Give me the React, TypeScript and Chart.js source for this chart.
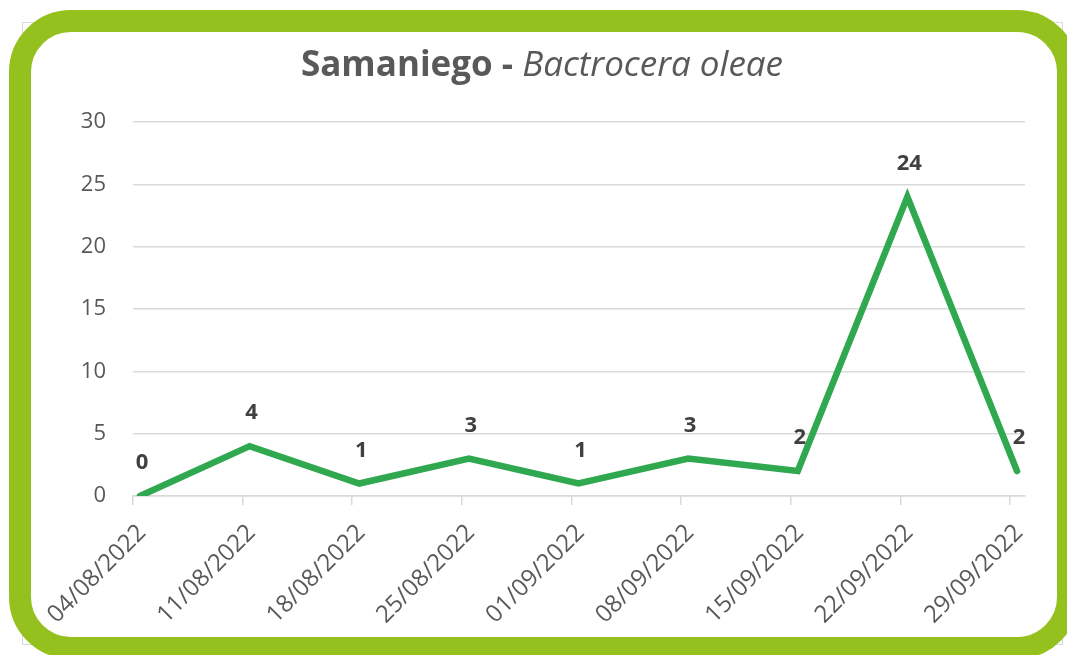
import React, { useEffect, useRef } from "react";
import { Chart, registerables } from "chart.js";

Chart.register(...registerables);

const categories = [
  "04/08/2022",
  "11/08/2022",
  "18/08/2022",
  "25/08/2022",
  "01/09/2022",
  "08/09/2022",
  "15/09/2022",
  "22/09/2022",
  "29/09/2022",
];
const captures = [0, 4, 1, 3, 1, 3, 2, 24, 2];
const yTicks = [0, 5, 10, 15, 20, 25, 30];
const titleBold = "Samaniego - ";
const titleItalic = "Bactrocera oleae";

const FONT = "'Open Sans', 'DejaVu Sans', sans-serif";

const titlePlugin = {
  id: "mixedTitle",
  afterDraw(chart: any) {
    const ctx = chart.ctx;
    ctx.save();
    ctx.textBaseline = "alphabetic";
    ctx.fillStyle = "#595959";
    ctx.font = `bold 35px ${FONT}`;
    const w1 = ctx.measureText(titleBold).width;
    ctx.font = `italic 35px ${FONT}`;
    const w2 = ctx.measureText(titleItalic).width;
    const x0 = 542 - (w1 + w2) / 2;
    ctx.font = `bold 35px ${FONT}`;
    ctx.textAlign = "left";
    ctx.fillText(titleBold, x0, 76);
    ctx.font = `italic 35px ${FONT}`;
    ctx.fillText(titleItalic, x0 + w1, 76);
    ctx.restore();
  },
};

const labelPlugin = {
  id: "pointLabels",
  afterDatasetsDraw(chart: any) {
    const ctx = chart.ctx;
    const meta = chart.getDatasetMeta(0);
    ctx.save();
    ctx.font = `bold 22px ${FONT}`;
    ctx.fillStyle = "#404040";
    ctx.textAlign = "center";
    ctx.textBaseline = "middle";
    meta.data.forEach((pt: any, i: number) => {
      ctx.fillText(String(captures[i]), pt.x + 2, pt.y - 33);
    });
    ctx.restore();
  },
};

const xLabelPlugin = {
  id: "xLabels",
  afterDraw(chart: any) {
    const ctx = chart.ctx;
    const xs = chart.scales.x;
    const y0 = chart.chartArea.bottom;
    ctx.save();
    ctx.font = `24px ${FONT}`;
    ctx.fillStyle = "#595959";
    ctx.textAlign = "right";
    ctx.textBaseline = "middle";
    categories.forEach((c, i) => {
      const px = xs.getPixelForValue(i);
      ctx.save();
      ctx.translate(px + 2, y0 + 33);
      ctx.rotate(-Math.PI / 4);
      ctx.fillText(c, 0, 0);
      ctx.restore();
    });
    ctx.restore();
  },
};

export default function App() {
  const ref = useRef<HTMLCanvasElement | null>(null);

  useEffect(() => {
    if (!ref.current) return;
    const chart = new Chart(ref.current, {
      type: "line",
      data: {
        datasets: [
          {
            data: captures.map((v, i) => ({ x: i, y: v })),
            borderColor: "#2FA84F",
            backgroundColor: "#2FA84F",
            borderWidth: 6.5,
            borderCapStyle: "round",
            tension: 0,
            pointRadius: 0,
            fill: false,
          },
        ],
      },
      options: {
        animation: false,
        responsive: false,
        maintainAspectRatio: false,
        layout: { padding: { top: 122, right: 42, left: 0, bottom: 0 } },
        plugins: {
          legend: { display: false },
          tooltip: { enabled: false },
          title: { display: false },
        },
        scales: {
          x: {
            type: "linear",
            min: -0.064,
            max: 8.073,
            afterBuildTicks: (s: any) => {
              s.ticks = categories.map((_, i) => ({ value: i - 0.064 }));
            },
            afterFit: (s: any) => {
              s.height = 159;
            },
            grid: {
              display: true,
              drawOnChartArea: false,
              drawTicks: true,
              tickLength: 9,
              color: "#d9d9d9",
              lineWidth: 1.5,
            },
            border: { display: true, color: "#d9d9d9", width: 1.5 },
            ticks: {
              display: false,
              autoSkip: false,
            },
          },
          y: {
            min: 0,
            max: 30,
            afterBuildTicks: (s: any) => {
              s.ticks = yTicks.map((v) => ({ value: v }));
            },
            afterFit: (s: any) => {
              s.width = 133;
            },
            grid: {
              color: "#d9d9d9",
              lineWidth: 1.5,
              drawTicks: false,
            },
            border: { display: false },
            ticks: {
              padding: 27,
              color: "#595959",
              font: { family: FONT, size: 22 },
            },
          },
        },
      },
      plugins: [titlePlugin, labelPlugin, xLabelPlugin],
    } as any);
    return () => chart.destroy();
  }, []);

  return (
    <div
      style={{
        position: "fixed",
        left: 0,
        top: 0,
        width: 1067,
        height: 655,
        overflow: "hidden",
        background: "#ffffff",
      }}
    >
      <div
        style={{
          position: "absolute",
          left: 22,
          top: 22,
          width: 1041,
          height: 623,
          border: "1px solid #d9d9d9",
          boxSizing: "border-box",
        }}
      />
      <canvas
        ref={ref}
        width={1067}
        height={655}
        style={{ position: "absolute", left: 0, top: 0, width: 1067, height: 655 }}
      />
      <div
        style={{
          position: "absolute",
          left: 9,
          top: 10,
          width: 1070,
          height: 649,
          border: "22px solid #95C11F",
          borderRadius: 62,
          boxSizing: "border-box",
          pointerEvents: "none",
        }}
      />
    </div>
  );
}
